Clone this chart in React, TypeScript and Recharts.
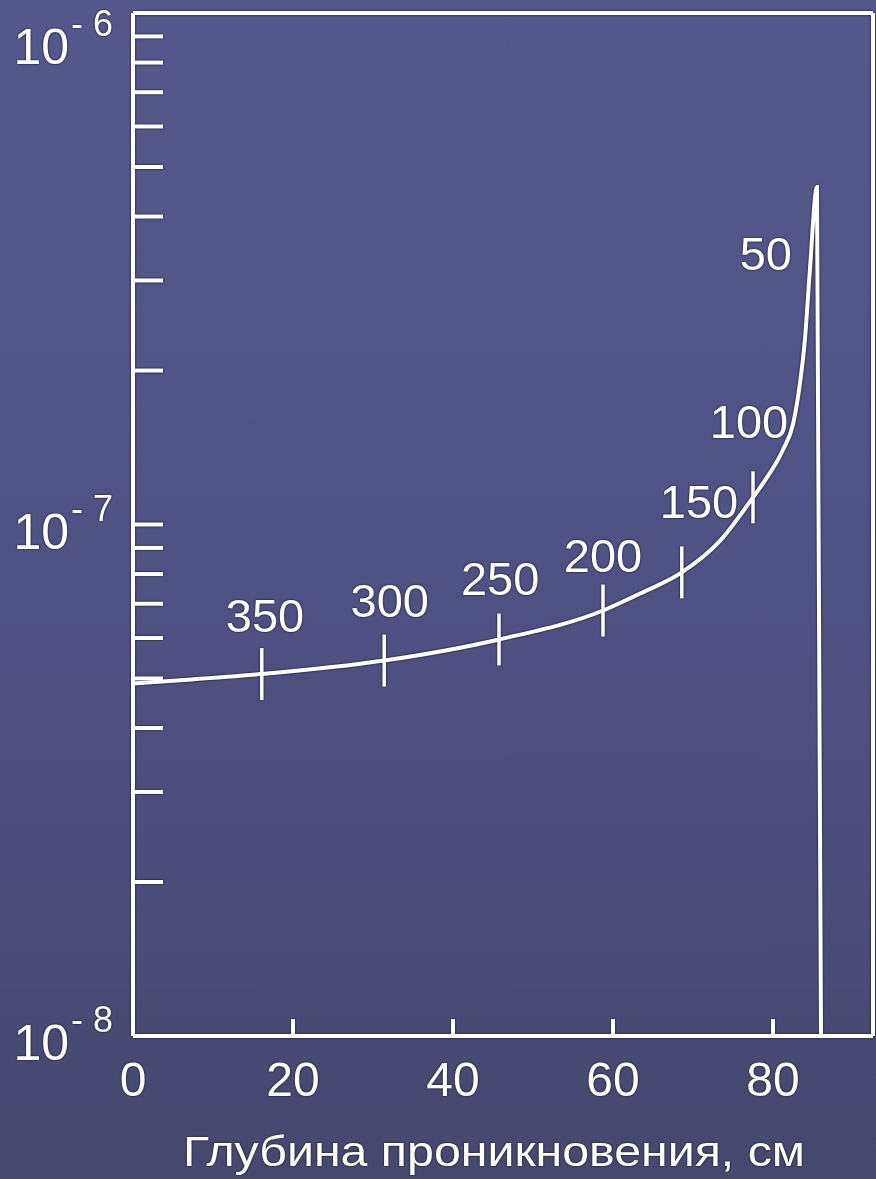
import { ComposedChart, Line, Scatter, XAxis, YAxis, ReferenceLine } from 'recharts';

// penetration depth (cm) vs value on the log axis
const depthCm = [0, 5.9, 16.1, 31.4, 45.75, 58.75, 63.4, 68.6, 73.4, 77.5, 79.0, 81.25, 82.5, 83.25, 84.0, 84.6, 85.5, 86.0];
const curveVal = [4.89e-8, 4.96e-8, 5.1e-8, 5.42e-8, 5.96e-8, 6.79e-8, 7.33e-8, 8.06e-8, 9.3e-8, 1.13e-7, 1.22e-7, 1.4e-7, 1.57e-7, 1.83e-7, 2.31e-7, 3.13e-7, 4.57e-7, 1e-8];

// small vertical marks on the curve
const markDepth = [16.1, 31.4, 45.75, 58.75, 68.6, 77.5];
const markVal = [5.1e-8, 5.42e-8, 5.96e-8, 6.79e-8, 8.06e-8, 1.13e-7];

// annotations along the curve
const noteText = ['350', '300', '250', '200', '150', '100', '50'];
const noteDepth = [16.5, 32.1, 45.9, 58.75, 70.75, 77.0, 79.1];
const noteVal = [6.64e-8, 7.11e-8, 7.85e-8, 8.7e-8, 1.11e-7, 1.59e-7, 3.4e-7];

const xTicks = [0, 20, 40, 60, 80];
const yTicks = [
  1e-8, 2e-8, 3e-8, 4e-8, 5e-8, 6e-8, 7e-8, 8e-8, 9e-8,
  1e-7, 2e-7, 3e-7, 4e-7, 5e-7, 6e-7, 7e-7, 8e-7, 9e-7, 1e-6,
];

const curve = depthCm.map((x, i) => ({ x, y: curveVal[i] }));
const marks = markDepth.map((x, i) => ({ x, y: markVal[i] }));
const notes = noteDepth.map((x, i) => ({ x, y: noteVal[i], text: noteText[i] }));

const FONT = '"Liberation Sans", Arial, sans-serif';
const INK = '#ffffff';

const YTick = ({ x, y, payload }: any) => {
  const v = payload.value;
  const exp = Math.round(Math.log10(v));
  const major = Math.abs(v - Math.pow(10, exp)) < v * 1e-6;
  // top label has no room above the frame, push it down
  const base = Math.max(y + 24, 64);
  return (
    <g>
      <line x1={x} x2={x + 30} y1={y} y2={y} stroke={INK} strokeWidth={4} />
      {major && (
        <g fill={INK} fontFamily={FONT}>
          <text x={x - 64} y={base} textAnchor="end" fontSize={50}>10</text>
          <text x={x - 62} y={base - 28} fontSize={36}>-</text>
          <text x={x - 40} y={base - 28} fontSize={36}>{String(-exp)}</text>
        </g>
      )}
    </g>
  );
};

const XTick = ({ x, y, payload }: any) => (
  <g>
    {payload.value !== 0 && <line x1={x} x2={x} y1={y} y2={y - 17} stroke={INK} strokeWidth={4} />}
    <text x={x} y={y + 60} textAnchor="middle" fontSize={48} fill={INK} fontFamily={FONT}>
      {payload.value}
    </text>
  </g>
);

const MarkShape = ({ cx, cy }: any) => (
  <line x1={cx} x2={cx} y1={cy - 26} y2={cy + 26} stroke={INK} strokeWidth={3.5} />
);

const NoteShape = ({ cx, cy, payload }: any) => (
  <text x={cx} y={cy} dy="0.36em" textAnchor="middle" fontSize={47} fill={INK} fontFamily={FONT}>
    {payload.text}
  </text>
);

export default function App() {
  return (
    <div
      style={{
        position: 'absolute',
        left: 0,
        top: 0,
        width: 876,
        height: 1179,
        overflow: 'hidden',
        background: 'linear-gradient(180deg, #56578c 0%, #505183 50%, #47486f 100%)',
      }}
    >
      <div style={{ filter: 'drop-shadow(0 0 1.2px #111)' }}>
        <ComposedChart
          width={900}
          height={1179}
          data={curve}
          margin={{ top: 13, right: 27, left: 73, bottom: 83 }}
        >
          <XAxis
            dataKey="x"
            type="number"
            domain={[0, 92.5]}
            ticks={xTicks}
            interval={0}
            height={60}
            tickSize={0}
            tickMargin={0}
            tickLine={false}
            axisLine={{ stroke: INK, strokeWidth: 4 }}
            tick={<XTick />}
          />
          <YAxis
            type="number"
            scale="log"
            domain={[1e-8, 1e-6]}
            allowDataOverflow
            ticks={yTicks}
            interval={0}
            width={60}
            tickSize={0}
            tickMargin={0}
            tickLine={false}
            axisLine={{ stroke: INK, strokeWidth: 4 }}
            tick={<YTick />}
          />
          <ReferenceLine y={1e-6} stroke={INK} strokeWidth={4} />
          <ReferenceLine x={92.5} stroke={INK} strokeWidth={4} />
          <Line
            dataKey="y"
            type="monotone"
            stroke={INK}
            strokeWidth={4}
            dot={false}
            isAnimationActive={false}
          />
          <Scatter data={marks} dataKey="y" shape={<MarkShape />} isAnimationActive={false} />
          <Scatter data={notes} dataKey="y" shape={<NoteShape />} isAnimationActive={false} />
        </ComposedChart>
        <div
          style={{
            position: 'absolute',
            left: 0,
            width: 988,
            top: 1128,
            textAlign: 'center',
            fontFamily: FONT,
            fontSize: 42,
            color: INK,
            whiteSpace: 'nowrap',
            transform: 'scaleX(1.15)',
            transformOrigin: '494px 0',
          }}
        >
          Глубина проникновения, см
        </div>
      </div>
    </div>
  );
}
